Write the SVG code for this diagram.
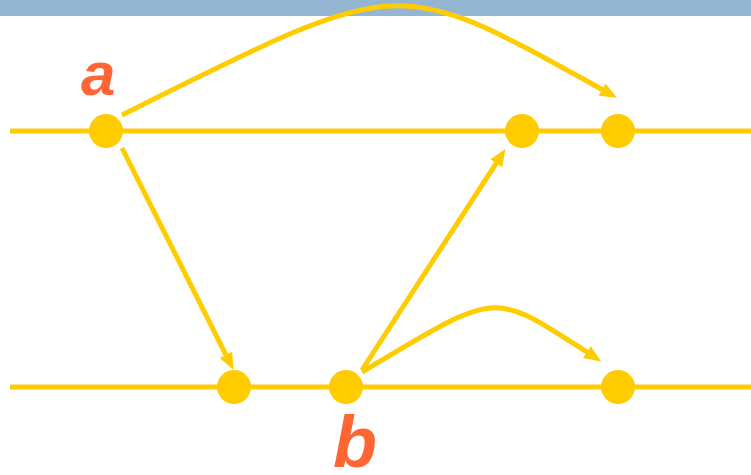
<svg xmlns="http://www.w3.org/2000/svg" width="751" height="475" viewBox="0 0 751 475">
<style>
.tl{stroke:#FFCC00;stroke-width:5;fill:none}
.dot{fill:#FFCC00}
.arr{stroke:#FFCC00;stroke-width:5;fill:none;marker-end:url(#ah)}
.lbl{font-family:"Liberation Sans",Arial,sans-serif;font-weight:bold;font-style:italic;fill:#FF6633}
</style>
<defs>
<marker id="ah" markerUnits="userSpaceOnUse" markerWidth="20" markerHeight="16" refX="1" refY="7" orient="auto" overflow="visible">
<path d="M0,0 L17,7 L0,14 z" fill="#FFCC00"/>
</marker>
</defs>
<rect x="0" y="0" width="751" height="16" fill="#94B6D3"/>
<g id="timelines">
<line class="tl" x1="10" y1="131" x2="751" y2="131"/>
<line class="tl" x1="10" y1="387" x2="751" y2="387"/>
</g>
<g id="connectors">
<path class="arr" d="M122,115 C405,-26.5 393,-26 603,90"/>
<path class="arr" d="M122,148 L226.4,355.8"/>
<path class="arr" d="M362,370 L496.8,162.3"/>
<path class="arr" d="M362,372 C499.4,289.6 491.7,290.2 587.8,352.7"/>
</g>
<g id="node-a"><circle class="dot" cx="106" cy="131" r="17"/></g>
<g id="node-p2"><circle class="dot" cx="522" cy="131" r="17"/></g>
<g id="node-p3"><circle class="dot" cx="618" cy="131" r="17"/></g>
<g id="node-q1"><circle class="dot" cx="234" cy="387" r="17"/></g>
<g id="node-b"><circle class="dot" cx="346" cy="387" r="17"/></g>
<g id="node-q3"><circle class="dot" cx="618" cy="387" r="17"/></g>
<g id="labels">
<text class="lbl" x="81" y="95" font-size="62">a</text>
<text class="lbl" x="333" y="467" font-size="72">b</text>
</g>
</svg>
